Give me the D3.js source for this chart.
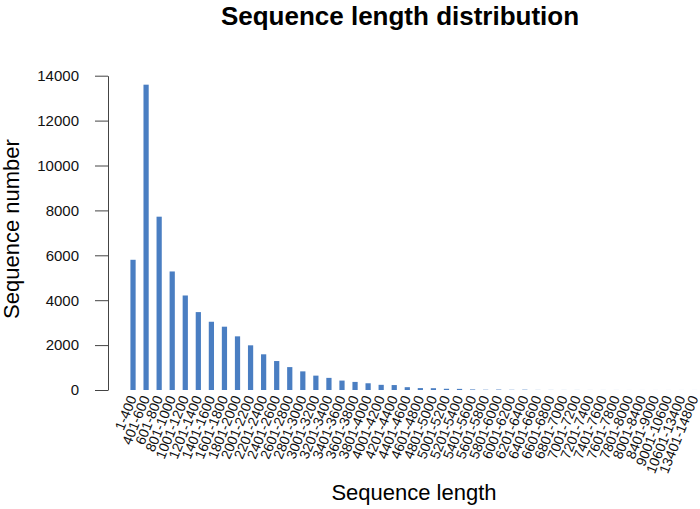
<!DOCTYPE html>
<html>
<head>
<meta charset="utf-8">
<script src="https://cdn.jsdelivr.net/npm/d3@7"></script>
<style>
  body { margin: 0; background: #fff; }
  svg { display: block; font-family: "Liberation Sans", Arial, sans-serif; }
</style>
</head>
<body>
<svg id="chart" width="700" height="509"></svg>
<script>
const categories = [
  "1-400", "401-600", "601-800", "801-1000", "1001-1200", "1201-1400",
  "1401-1600", "1601-1800", "1801-2000", "2001-2200", "2201-2400",
  "2401-2600", "2601-2800", "2801-3000", "3001-3200", "3201-3400",
  "3401-3600", "3601-3800", "3801-4000", "4001-4200", "4201-4400",
  "4401-4600", "4601-4800", "4801-5000", "5001-5200", "5201-5400",
  "5401-5600", "5601-5800", "5801-6000", "6001-6200", "6201-6400",
  "6401-6600", "6601-6800", "6801-7000", "7001-7200", "7201-7400",
  "7401-7600", "7601-7800", "7801-8000", "8001-8400", "8401-9000",
  "9001-10600", "10601-13400", "13401-14800"
];

const counts = [
  5800, 13600, 7720, 5280, 4210, 3470,
  3040, 2820, 2390, 1990, 1590,
  1290, 1020, 830, 640, 540,
  420, 360, 300, 230, 220,
  125, 85, 80, 55, 50,
  25, 12, 20, 10, 15,
  5, 4, 3, 3, 2,
  2, 2, 1, 1, 1,
  1, 1, 1
];

const yTicks = [0, 2000, 4000, 6000, 8000, 10000, 12000, 14000];

const svg = d3.select("#chart");
const step = 13.06;

const x = d3.scaleBand()
  .domain(categories)
  .range([126.5, 126.5 + step * categories.length])
  .paddingInner(0.6)
  .paddingOuter(0.3);

const y = d3.scaleLinear()
  .domain([0, 14000])
  .range([390, 75.7]);

// bars
svg.append("g")
  .selectAll("rect")
  .data(categories.map((c, i) => ({ cat: c, value: counts[i] })))
  .join("rect")
  .attr("x", d => x(d.cat))
  .attr("y", d => y(d.value))
  .attr("width", x.bandwidth())
  .attr("height", d => y(0) - y(d.value))
  .attr("fill", "#4a7ec2");

// y axis
const yAxis = svg.append("g")
  .attr("transform", "translate(108,0)")
  .call(d3.axisLeft(y).tickValues(yTicks).tickFormat(d3.format("d"))
    .tickSize(13).tickSizeOuter(0).tickPadding(16));
yAxis.select(".domain").attr("stroke", "#444");
yAxis.selectAll(".tick line").attr("stroke", "#444");
yAxis.selectAll(".tick text")
  .attr("fill", "#111")
  .style("font-size", "15px");

// x labels, rotated
svg.append("g")
  .selectAll("text")
  .data(categories)
  .join("text")
  .attr("transform", d => `translate(${x(d) + x.bandwidth() / 2 + 4},398) rotate(-68)`)
  .attr("text-anchor", "end")
  .attr("fill", "#111")
  .style("font-size", "14px")
  .text(d => d);

// title
svg.append("text")
  .attr("x", 400)
  .attr("y", 25)
  .attr("text-anchor", "middle")
  .style("font-size", "26px")
  .style("font-weight", "bold")
  .attr("fill", "#000")
  .text("Sequence length distribution");

// axis titles
svg.append("text")
  .attr("x", 414)
  .attr("y", 500)
  .attr("text-anchor", "middle")
  .style("font-size", "22px")
  .attr("fill", "#000")
  .text("Sequence length");

svg.append("text")
  .attr("transform", "translate(19,229) rotate(-90)")
  .attr("text-anchor", "middle")
  .style("font-size", "22px")
  .attr("fill", "#000")
  .text("Sequence number");
</script>
</body>
</html>
